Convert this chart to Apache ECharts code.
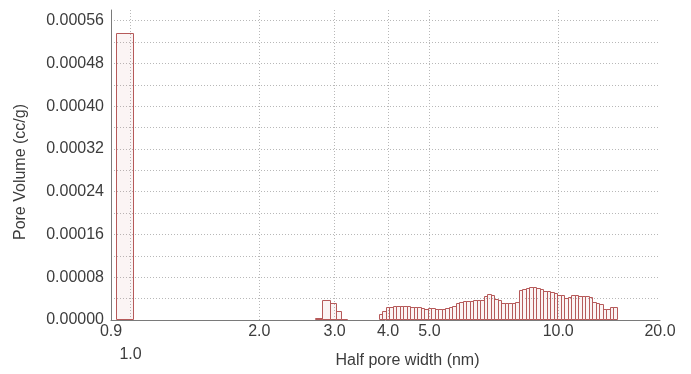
<!DOCTYPE html>
<html><head><meta charset="utf-8">
<script src="https://cdn.jsdelivr.net/npm/echarts@6/dist/echarts.min.js"></script>
<style>html,body{margin:0;padding:0;background:#fff}#c{width:691px;height:374px}</style>
</head><body><div id="c"></div>
<script>
// ---- axis ticks ----
const xAxisStart = 0.9;      // nm, left end of the log axis
const xAxisEnd = 17.3;       // nm, right end of the log axis (labelled "20.0" in the source)
const xTickValues = [0.9, 1.0, 2.0, 3.0, 4.0, 5.0, 10.0, 17.3];
const xTickLabels = ['0.9', '1.0', '2.0', '3.0', '4.0', '5.0', '10.0', '20.0'];
const xGridValues = [1.0, 2.0, 3.0, 4.0, 5.0, 10.0];
const yTickValues = [0, 0.00008, 0.00016, 0.00024, 0.00032, 0.00040, 0.00048, 0.00056];
const yMax = 0.00058;
const yGridStep = 0.00004;

// ---- histogram data (bin edges in nm, pore volume in cc/g) ----
const microEdges = [0.925, 1.013];
const microValues = [0.000537];

const peak3Edges = [2.697, 2.796, 2.924, 3.020, 3.102, 3.203];
const peak3Values = [0.3e-5, 3.7e-5, 3.1e-5, 1.65e-5, 0.2e-5];

const mesoEdges = [3.806,3.878,3.952,4.027,4.104,4.182,4.261,4.342,4.425,4.509,4.595,4.682,4.771,4.862,4.954,5.049,5.145,5.243,5.342,5.444,5.547,5.653,5.760,5.870,5.981,6.095,6.211,6.329,6.449,6.572,6.697,6.824,6.954,7.086,7.221,7.358,7.498,7.641,7.786,7.934,8.085,8.239,8.395,8.555,8.717,8.883,9.052,9.224,9.399,9.578,9.760,9.945,10.134,10.327,10.523,10.723,10.927,11.135,11.346,11.562,11.782,12.006,12.234,12.466,12.703,12.944,13.190,13.441,13.696];
const mesoValues = [1.1e-5,1.75e-5,2.4e-5,2.5e-5,2.6e-5,2.6e-5,2.6e-5,2.6e-5,2.6e-5,2.5e-5,
  2.5e-5,2.4e-5,2.2e-5,2.1e-5,2.2e-5,2.2e-5,2.1e-5,2.1e-5,2.0e-5,2.2e-5,
  2.4e-5,2.7e-5,3.1e-5,3.4e-5,3.6e-5,3.6e-5,3.6e-5,3.7e-5,3.7e-5,3.8e-5,
  4.5e-5,4.9e-5,4.6e-5,4.0e-5,3.7e-5,3.2e-5,3.1e-5,3.1e-5,3.1e-5,3.3e-5,
  5.6e-5,5.8e-5,6.0e-5,6.1e-5,6.1e-5,5.9e-5,5.8e-5,5.5e-5,5.4e-5,5.2e-5,
  5.1e-5,4.7e-5,4.6e-5,4.2e-5,4.3e-5,4.6e-5,4.6e-5,4.5e-5,4.5e-5,4.4e-5,
  4.3e-5,3.3e-5,3.1e-5,3.0e-5,2.0e-5,2.1e-5,2.5e-5,2.5e-5];

// ---- build data in log10 space ----
const lg = Math.log10;
const bins = [];
function addBins(edges, values) {
  for (let i = 0; i < values.length; i++) bins.push([lg(edges[i]), lg(edges[i + 1]), values[i]]);
}
addBins(microEdges, microValues);
addBins(peak3Edges, peak3Values);
addBins(mesoEdges, mesoValues);

const FONT = '"Liberation Sans", Arial, sans-serif';
const TXT = '#3c3c3c';
const GRID_LINE = { show: true, lineStyle: { color: '#b8b8b8', type: [1, 2], width: 1 } };

const chart = echarts.init(document.getElementById('c'), null, { renderer: 'canvas' });
const gridW = 691 - 111 - 31;
const pxPerLog = gridW / (lg(xAxisEnd) - lg(xAxisStart));

// labels too close to their left neighbour go to a second row
const row1 = [], row2 = [];
xTickValues.forEach((v, i) => {
  if (i > 0 && (lg(v) - lg(xTickValues[i - 1])) * pxPerLog < 28) row2.push(lg(v));
  else row1.push(lg(v));
});
function xLabel(v) {
  let best = 0;
  for (let i = 1; i < xTickValues.length; i++)
    if (Math.abs(lg(xTickValues[i]) - v) < Math.abs(lg(xTickValues[best]) - v)) best = i;
  return xTickLabels[best];
}
const labelStyle = { fontFamily: FONT, fontSize: 16, color: TXT, hideOverlap: false,
  showMinLabel: true, showMaxLabel: true, formatter: xLabel };

chart.setOption({
  animation: false,
  backgroundColor: '#fff',
  grid: { left: 111, right: 31, top: 10, bottom: 54, outerBoundsMode: 'none', containLabel: false },
  xAxis: [{
    type: 'value',
    min: lg(xAxisStart),
    max: lg(xAxisEnd),
    name: 'Half pore width (nm)',
    nameLocation: 'middle',
    nameGap: 33,
    nameTextStyle: { fontFamily: FONT, fontSize: 16, color: TXT, padding: [0, 0, 0, 44] },
    axisLine: { show: true, onZero: false, lineStyle: { color: '#7a7a7a', width: 1 } },
    axisTick: { show: false, customValues: xGridValues.map(lg) },
    splitLine: Object.assign({ showMinLine: true, showMaxLine: true, customValues: xGridValues.map(lg) }, GRID_LINE),
    axisLabel: Object.assign({ customValues: row1, margin: 4 }, labelStyle)
  }, {
    type: 'value',
    position: 'bottom',
    offset: 23,
    min: lg(xAxisStart),
    max: lg(xAxisEnd),
    axisLine: { show: false, onZero: false },
    axisTick: { show: false },
    splitLine: { show: false },
    axisLabel: Object.assign({ customValues: row2, margin: 4 }, labelStyle)
  }],
  yAxis: {
    type: 'value',
    min: 0,
    max: yMax,
    interval: yGridStep,
    name: 'Pore Volume (cc/g)',
    nameLocation: 'middle',
    nameGap: 82,
    nameTextStyle: { fontFamily: FONT, fontSize: 16, color: TXT, padding: [0, 14, 0, 0] },
    axisLine: { show: true, onZero: false, lineStyle: { color: '#7a7a7a', width: 1 } },
    axisTick: { show: false },
    splitLine: Object.assign({ showMinLine: false, showMaxLine: false }, GRID_LINE),
    axisLabel: {
      customValues: yTickValues,
      showMinLabel: true, showMaxLabel: true,
      fontFamily: FONT, fontSize: 16, color: TXT, margin: 7,
      formatter: v => v.toFixed(5)
    }
  },
  series: [{
    type: 'custom',
    xAxisIndex: 0,
    data: bins,
    encode: { x: [0, 1], y: 2 },
    clip: true,
    renderItem: function (params, api) {
      const a = api.coord([api.value(0), api.value(2)]);
      const b = api.coord([api.value(1), 0]);
      const x0 = Math.round(a[0]) + 0.5, x1 = Math.round(b[0]) + 0.5;
      const y0 = Math.round(a[1]) + 0.5, y1 = Math.round(b[1]) - 0.5;
      return {
        type: 'rect',
        shape: { x: x0, y: y0, width: x1 - x0, height: y1 - y0 },
        style: { fill: 'rgba(200,110,110,0.08)', stroke: '#b65a5a', lineWidth: 1 }
      };
    }
  }]
});
</script>
</body></html>
